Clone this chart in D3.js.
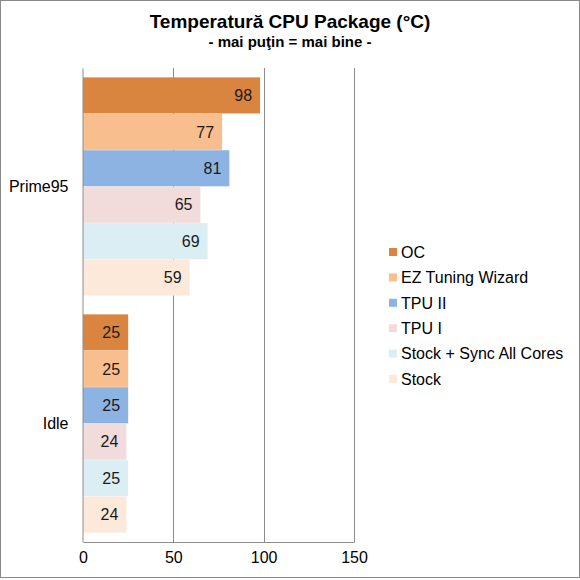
<!DOCTYPE html>
<html>
<head>
<meta charset="utf-8">
<script src="https://d3js.org/d3.v7.min.js"></script>
<style>
  body { margin: 0; background: #fff; }
  text { font-family: "Liberation Sans", Arial, sans-serif; }
</style>
</head>
<body>
<div id="chart"></div>
<script>
// data
const categories = ["Prime95", "Idle"];
const seriesNames = ["OC", "EZ Tuning Wizard", "TPU II", "TPU I", "Stock + Sync All Cores", "Stock"];
const seriesColors = ["#d9843f", "#f9be8e", "#8db3e2", "#f1dcdb", "#dbeef4", "#fde9d9"];
const prime95Values = [98, 77, 81, 65, 69, 59];
const idleValues = [25, 25, 25, 24, 25, 24];
const xTicks = [0, 50, 100, 150];

const W = 580, H = 580;
const plot = { left: 83, right: 354, top: 68, bottom: 542 };

const svg = d3.select("#chart").append("svg")
    .attr("width", W)
    .attr("height", H);

// outer border
svg.append("rect")
    .attr("x", 0.5).attr("y", 0.5)
    .attr("width", W - 1).attr("height", H - 3)
    .attr("fill", "#fff")
    .attr("stroke", "#8a8a8a");

// titles
svg.append("text")
    .attr("x", 290).attr("y", 28)
    .attr("text-anchor", "middle")
    .style("font-size", "19px").style("font-weight", "bold")
    .text("Temperatură CPU Package (°C)");
svg.append("text")
    .attr("x", 290).attr("y", 47)
    .attr("text-anchor", "middle")
    .style("font-size", "15px").style("font-weight", "bold")
    .text("- mai puţin = mai bine -");

// scales
const x = d3.scaleLinear().domain([0, 150]).range([plot.left, plot.right]);
const y0 = d3.scaleBand().domain(categories).range([plot.top, plot.bottom]).paddingInner(0.076).paddingOuter(0.038);
const y1 = d3.scaleBand().domain(seriesNames).range([0, y0.bandwidth()]).padding(0.01);

const table = categories.map(function(c, i) {
    const vals = i === 0 ? prime95Values : idleValues;
    return { cat: c, values: seriesNames.map(function(s, j) { return { name: s, value: vals[j], color: seriesColors[j] }; }) };
});

// gridlines
svg.append("g")
    .selectAll("line")
    .data(xTicks.slice(1))
    .enter().append("line")
    .attr("x1", d => Math.round(x(d)) + 0.5).attr("x2", d => Math.round(x(d)) + 0.5)
    .attr("y1", plot.top).attr("y2", plot.bottom)
    .attr("stroke", "#8c8c8c");

// bars
const groups = svg.append("g")
    .selectAll("g")
    .data(table)
    .enter().append("g")
    .attr("transform", d => "translate(0," + y0(d.cat) + ")");

groups.selectAll("rect")
    .data(d => d.values)
    .enter().append("rect")
    .attr("x", x(0))
    .attr("y", d => y1(d.name))
    .attr("width", d => x(d.value) - x(0))
    .attr("height", y1.bandwidth())
    .attr("fill", d => d.color);

groups.selectAll("text")
    .data(d => d.values)
    .enter().append("text")
    .attr("x", d => x(d.value) - 8)
    .attr("y", d => y1(d.name) + y1.bandwidth() / 2)
    .attr("dy", "0.36em")
    .attr("text-anchor", "end")
    .style("font-size", "16px")
    .attr("fill", "#1a1a1a")
    .text(d => d.value);

// axes
const xAxis = svg.append("g")
    .attr("transform", "translate(0," + plot.bottom + ")")
    .call(d3.axisBottom(x).tickValues(xTicks).tickSize(0).tickPadding(10));
xAxis.select(".domain").attr("stroke", "#8c8c8c");
xAxis.selectAll("text").style("font-size", "16px").attr("fill", "#000")
    .style("font-family", "'Liberation Sans', Arial, sans-serif");

const yAxis = svg.append("g")
    .attr("transform", "translate(" + (plot.left - 0.5) + ",0)")
    .call(d3.axisLeft(y0).tickSize(0).tickPadding(14));
yAxis.select(".domain").attr("stroke", "#8c8c8c");
yAxis.selectAll("text").style("font-size", "16px").attr("fill", "#000")
    .style("font-family", "'Liberation Sans', Arial, sans-serif");

// legend
const legend = svg.append("g")
    .selectAll("g")
    .data(seriesNames)
    .enter().append("g")
    .attr("transform", (d, i) => "translate(389," + (252 + i * 25.4) + ")");
legend.append("rect")
    .attr("x", 0).attr("y", -4)
    .attr("width", 8).attr("height", 8)
    .attr("fill", (d, i) => seriesColors[i]);
legend.append("text")
    .attr("x", 12).attr("y", 0)
    .attr("dy", "0.36em")
    .style("font-size", "16px")
    .text(d => d);
</script>
</body>
</html>
